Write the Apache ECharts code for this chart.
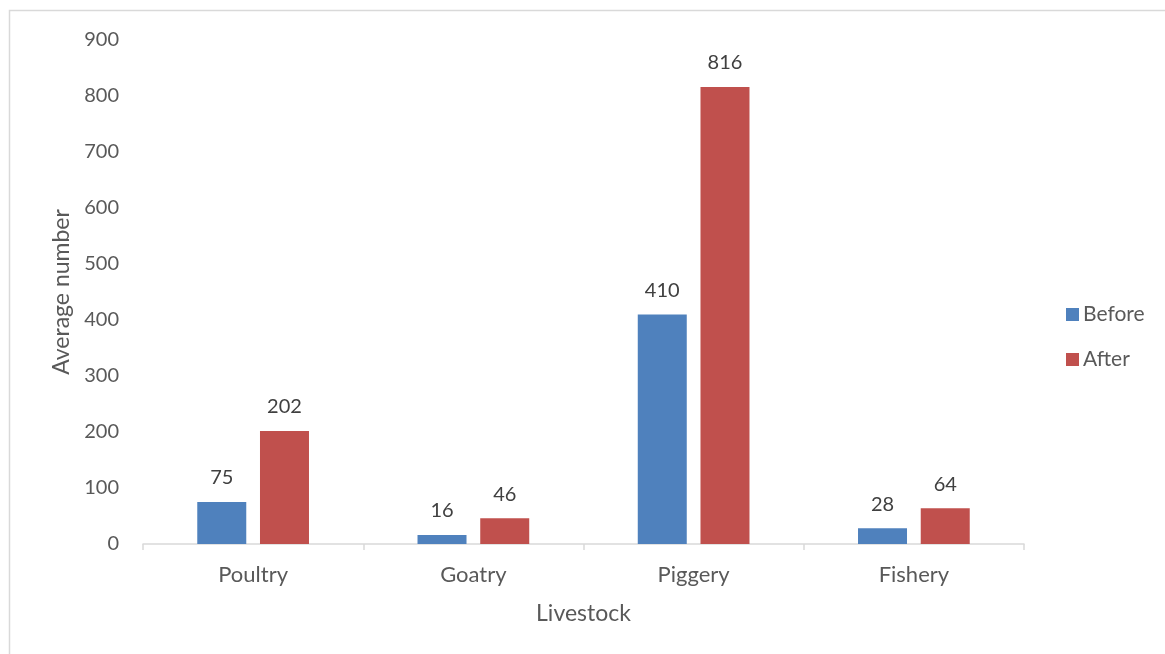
<!DOCTYPE html>
<html>
<head>
<meta charset="utf-8">
<script src="https://cdn.jsdelivr.net/npm/echarts@6/dist/echarts.min.js"></script>
<style>
  html, body { margin: 0; padding: 0; background: #fff; }
  #chart { width: 1165px; height: 654px; }
</style>
</head>
<body>
<div id="chart"></div>
<script>
// Average livestock numbers before and after
const categories = ['Poultry', 'Goatry', 'Piggery', 'Fishery'];
const beforeValues = [75, 16, 410, 28];
const afterValues = [202, 46, 816, 64];
const seriesNames = ['Before', 'After'];

const FONT = 'Lato, "Noto Sans", sans-serif';
const chart = echarts.init(document.getElementById('chart'));

const labelStyle = {
  show: true,
  position: 'top',
  distance: 14,
  color: '#404040',
  fontSize: 20,
  fontFamily: FONT
};

chart.setOption({
  animation: false,
  backgroundColor: '#fff',
  graphic: [{
    type: 'rect',
    shape: { x: 9.5, y: 10.5, width: 1200, height: 700 },
    style: { fill: 'none', stroke: '#d9d9d9', lineWidth: 1.5 },
    silent: true
  }],
  grid: { left: 143, right: 141, top: 40, bottom: 110 },
  legend: {
    orient: 'vertical',
    left: 1066,
    top: 304,
    padding: 0,
    itemWidth: 13,
    itemHeight: 13,
    itemGap: 24,
    icon: 'rect',
    textStyle: { color: '#595959', fontSize: 21, fontFamily: FONT, padding: [0, 0, 0, -1] },
    data: seriesNames
  },
  xAxis: {
    type: 'category',
    data: categories,
    name: 'Livestock',
    nameLocation: 'middle',
    nameGap: 58,
    nameTextStyle: { color: '#595959', fontSize: 23, fontFamily: FONT },
    axisLine: { lineStyle: { color: '#d9d9d9', width: 1.5 } },
    axisTick: { show: true, length: 6, lineStyle: { color: '#d9d9d9', width: 1.5 } },
    axisLabel: { color: '#595959', fontSize: 22, fontFamily: FONT, margin: 20 }
  },
  yAxis: {
    type: 'value',
    min: 0,
    max: 900,
    interval: 100,
    name: 'Average number',
    nameLocation: 'middle',
    nameGap: 69,
    nameTextStyle: { color: '#595959', fontSize: 23, fontFamily: FONT },
    axisLine: { show: false },
    axisTick: { show: false },
    splitLine: { show: false },
    axisLabel: { color: '#595959', fontSize: 20, fontFamily: FONT, margin: 24 }
  },
  series: [
    {
      name: seriesNames[0],
      type: 'bar',
      data: beforeValues,
      barWidth: 49,
      barGap: '28%',
      itemStyle: { color: '#4f81bd' },
      label: labelStyle
    },
    {
      name: seriesNames[1],
      type: 'bar',
      data: afterValues,
      barWidth: 49,
      itemStyle: { color: '#c0504d' },
      label: labelStyle
    }
  ]
});
</script>
</body>
</html>
